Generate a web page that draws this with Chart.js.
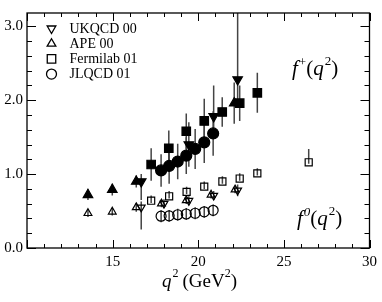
<!DOCTYPE html>
<html>
<head>
<meta charset="utf-8">
<script src="https://cdn.jsdelivr.net/npm/chart.js@4"></script>
<style>
  html, body { margin: 0; padding: 0; background: #fff; }
  #wrap { width: 382px; height: 302px; }
</style>
</head>
<body>
<div id="wrap"><canvas id="myChart" width="382" height="302"></canvas></div>
<script>
// q^2 values (GeV^2) and form factors
const qUkqcdPlus = [16.67, 19.45, 20.9, 22.3];
const fUkqcdPlus = [0.90, 1.40, 1.78, 2.28];
const eUkqcdPlusLo = [0.25, 0.30, 0.30, 0.30];
const eUkqcdPlusHi = [0.10, 0.30, 0.42, 1.00];

const qApePlus = [13.56, 14.98, 16.38, 22.1];
const fApePlus = [0.72, 0.79, 0.90, 1.96];
const eApePlus = [0.07, 0.08, 0.08, 0.28];

const qFermilab = [17.25, 18.28, 19.3, 20.35, 21.4, 22.42, 23.45];
const fFermilabPlus = [1.13, 1.35, 1.58, 1.72, 1.84, 1.96, 2.10];
const eFermilabPlus = [0.22, 0.24, 0.24, 0.30, 0.20, 0.24, 0.27];

const qJlqcd = [17.83, 18.3, 18.8, 19.3, 19.82, 20.35, 20.87];
const fJlqcdPlus = [1.05, 1.11, 1.17, 1.25, 1.34, 1.43, 1.55];
const eJlqcdPlus = [0.22, 0.24, 0.24, 0.25, 0.27, 0.28, 0.30];

const qUkqcdZero = [16.67, 18.0, 19.45, 20.9, 22.3];
const fUkqcdZero = [0.55, 0.60, 0.64, 0.71, 0.78];
const eUkqcdZeroLo = [0.30, 0.06, 0.06, 0.06, 0.08];
const eUkqcdZeroHi = [0.08, 0.06, 0.06, 0.06, 0.08];

const qApeZero = [13.56, 14.98, 16.38, 17.85, 19.3, 20.75, 22.15];
const fApeZero = [0.47, 0.49, 0.55, 0.60, 0.645, 0.72, 0.79];
const eApeZero = [0.05, 0.05, 0.06, 0.05, 0.05, 0.05, 0.05];

const qFermilabZero = [17.25, 18.3, 19.32, 20.35, 21.41, 22.42, 23.45, 26.45];
const fFermilabZero = [0.64, 0.70, 0.76, 0.83, 0.90, 0.94, 1.01, 1.16];
const eFermilabZeroLo = [0.03, 0.03, 0.03, 0.03, 0.03, 0.03, 0.03, 0.02];
const eFermilabZeroHi = [0.07, 0.07, 0.07, 0.07, 0.07, 0.07, 0.07, 0.18];

const fJlqcdZero = [0.43, 0.435, 0.45, 0.46, 0.47, 0.49, 0.51];
const eJlqcdZero = [0.08, 0.08, 0.08, 0.08, 0.08, 0.08, 0.08];

const xTickLabels = [15, 20, 25, 30];
const yTickLabels = [0, 1, 2, 3];
const legendNames = ["UKQCD 00", "APE 00", "Fermilab 01", "JLQCD 01"];

const SERIF = "'Liberation Serif', 'DejaVu Serif', serif";

function pts(xs, ys) {
  return xs.map((x, i) => ({ x: x, y: ys[i] }));
}

function makeSet(label, xs, ys, lo, hi, style, filled, radius, rotation) {
  return {
    label: label,
    data: pts(xs, ys),
    errLo: lo,
    errHi: hi || lo,
    pointStyle: style,
    rotation: rotation || 0,
    pointRadius: radius,
    pointHoverRadius: radius,
    pointBorderWidth: 1.2,
    borderColor: "#000",
    backgroundColor: filled ? "#000" : "rgba(0,0,0,0)",
    showLine: false,
  };
}

// draw text pieces one after another (for superscripts / italics)
function drawPieces(ctx, pieces, x, y) {
  let cx = x;
  pieces.forEach((p) => {
    ctx.font = p.font;
    ctx.fillText(p.t, cx, y + (p.dy || 0));
    cx += ctx.measureText(p.t).width + (p.gap || 0);
  });
}

const errorBars = {
  id: "errorBars",
  beforeDatasetsDraw(chart) {
    const { ctx, chartArea, scales } = chart;
    ctx.save();
    ctx.beginPath();
    ctx.rect(chartArea.left, chartArea.top, chartArea.right - chartArea.left, chartArea.bottom - chartArea.top);
    ctx.clip();
    ctx.strokeStyle = "#444";
    ctx.lineWidth = 1.5;
    chart.data.datasets.forEach((ds) => {
      ds.data.forEach((p, i) => {
        const px = scales.x.getPixelForValue(p.x);
        const y1 = scales.y.getPixelForValue(p.y - ds.errLo[i]);
        const y2 = scales.y.getPixelForValue(p.y + ds.errHi[i]);
        ctx.beginPath();
        ctx.moveTo(px, y1);
        ctx.lineTo(px, y2);
        ctx.stroke();
      });
    });
    ctx.restore();
  },
};

const frameAndText = {
  id: "frameAndText",
  afterDraw(chart) {
    const { ctx, chartArea: a, scales } = chart;
    ctx.save();
    ctx.strokeStyle = "#000";
    ctx.lineWidth = 1.3;
    ctx.strokeRect(a.left, a.top, a.right - a.left, a.bottom - a.top);

    // inward ticks, mirrored on all four sides
    ctx.lineWidth = 1;
    ctx.beginPath();
    for (let v = 10; v <= 30; v += 1) {
      const px = Math.round(scales.x.getPixelForValue(v)) + 0.5;
      const len = v % 5 === 0 ? 8 : 4;
      ctx.moveTo(px, a.bottom); ctx.lineTo(px, a.bottom - len);
      ctx.moveTo(px, a.top); ctx.lineTo(px, a.top + len);
    }
    for (let k = 0; k <= 15; k++) {
      const v = k * 0.2;
      const py = Math.round(scales.y.getPixelForValue(v)) + 0.5;
      const len = k % 5 === 0 ? 9 : 5;
      ctx.moveTo(a.left, py); ctx.lineTo(a.left + len, py);
      ctx.moveTo(a.right, py); ctx.lineTo(a.right - len, py);
    }
    ctx.stroke();

    ctx.fillStyle = "#000";
    ctx.textBaseline = "alphabetic";
    ctx.textAlign = "left";

    // legend with open symbols
    legendNames.forEach((name, i) => {
      const ly = 27.5 + i * 15.2;
      const styles = [
        { pointStyle: "triangle", rotation: 180, radius: 5 },
        { pointStyle: "triangle", rotation: 0, radius: 5 },
        { pointStyle: "rect", rotation: 0, radius: 6 },
        { pointStyle: "circle", rotation: 0, radius: 5 },
      ];
      ctx.strokeStyle = "#000";
      ctx.fillStyle = "rgba(0,0,0,0)";
      ctx.lineWidth = 1.3;
      Chart.helpers.drawPoint(ctx, Object.assign({ borderWidth: 1.3 }, styles[i]), 51.5, ly + 1);
      ctx.fillStyle = "#000";
      ctx.font = "14px " + SERIF;
      ctx.fillText(name, 69.5, ly + 5);
    });

    // curve labels
    const it = "italic 21px " + SERIF;
    const rm = "21px " + SERIF;
    const sm = "13px " + SERIF;
    const smIt = "italic 13px " + SERIF;
    drawPieces(ctx, [
      { t: "f", font: it, gap: 1 },
      { t: "+", font: sm, dy: -9 },
      { t: "(", font: rm },
      { t: "q", font: it, gap: 1 },
      { t: "2", font: sm, dy: -10 },
      { t: ")", font: rm },
    ], 292, 75);
    drawPieces(ctx, [
      { t: "f", font: it, gap: 1 },
      { t: "0", font: smIt, dy: -9 },
      { t: "(", font: rm },
      { t: "q", font: it, gap: 1 },
      { t: "2", font: sm, dy: -10 },
      { t: ")", font: rm },
    ], 297, 225);

    // x-axis title
    drawPieces(ctx, [
      { t: "q", font: "italic 19px " + SERIF, gap: 1 },
      { t: "2", font: "12px " + SERIF, dy: -10, gap: 4 },
      { t: "(GeV", font: "19px " + SERIF },
      { t: "2", font: "12px " + SERIF, dy: -10 },
      { t: ")", font: "19px " + SERIF },
    ], 162, 287);
    ctx.restore();
  },
};

document.addEventListener("DOMContentLoaded", function () {
  const ctx = document.getElementById("myChart").getContext("2d");

  const datasets = [
    makeSet("JLQCD 01 f0", qJlqcd, fJlqcdZero, eJlqcdZero, null, "circle", false, 5),
    makeSet("Fermilab 01 f0", qFermilabZero, fFermilabZero, eFermilabZeroLo, eFermilabZeroHi, "rect", false, 5),
    makeSet("APE 00 f0", qApeZero, fApeZero, eApeZero, null, "triangle", false, 4.5),
    makeSet("UKQCD 00 f0", qUkqcdZero, fUkqcdZero, eUkqcdZeroLo, eUkqcdZeroHi, "triangle", false, 4.5, 180),
    makeSet("JLQCD 01 f+", qJlqcd, fJlqcdPlus, eJlqcdPlus, null, "circle", true, 5.5),
    makeSet("Fermilab 01 f+", qFermilab, fFermilabPlus, eFermilabPlus, null, "rect", true, 6),
    makeSet("APE 00 f+", qApePlus, fApePlus, eApePlus, null, "triangle", true, 5.5),
    makeSet("UKQCD 00 f+", qUkqcdPlus, fUkqcdPlus, eUkqcdPlusLo, eUkqcdPlusHi, "triangle", true, 5.5, 180),
  ];

  new Chart(ctx, {
    type: "scatter",
    data: { datasets: datasets },
    plugins: [errorBars, frameAndText],
    options: {
      responsive: false,
      animation: false,
      events: [],
      layout: { padding: { top: 2, right: 11, left: 0, bottom: 0 } },
      plugins: {
        legend: { display: false },
        tooltip: { enabled: false },
      },
      scales: {
        x: {
          type: "linear",
          min: 10,
          max: 30,
          afterFit: (s) => { s.height = 54; },
          afterBuildTicks: (s) => { s.ticks = xTickLabels.map((v) => ({ value: v })); },
          grid: { display: false, drawTicks: false },
          border: { display: false },
          ticks: {
            padding: 5,
            color: "#000",
            font: { family: SERIF, size: 15 },
            maxRotation: 0,
            callback: (v) => String(v),
          },
        },
        y: {
          type: "linear",
          min: 0,
          max: 3.18,
          afterFit: (s) => { s.width = 27; },
          afterBuildTicks: (s) => { s.ticks = yTickLabels.map((v) => ({ value: v })); },
          grid: { display: false, drawTicks: false },
          border: { display: false },
          ticks: {
            padding: 4,
            color: "#000",
            font: { family: SERIF, size: 15 },
            callback: (v) => Number(v).toFixed(1),
          },
        },
      },
    },
  });
});
</script>
</body>
</html>
